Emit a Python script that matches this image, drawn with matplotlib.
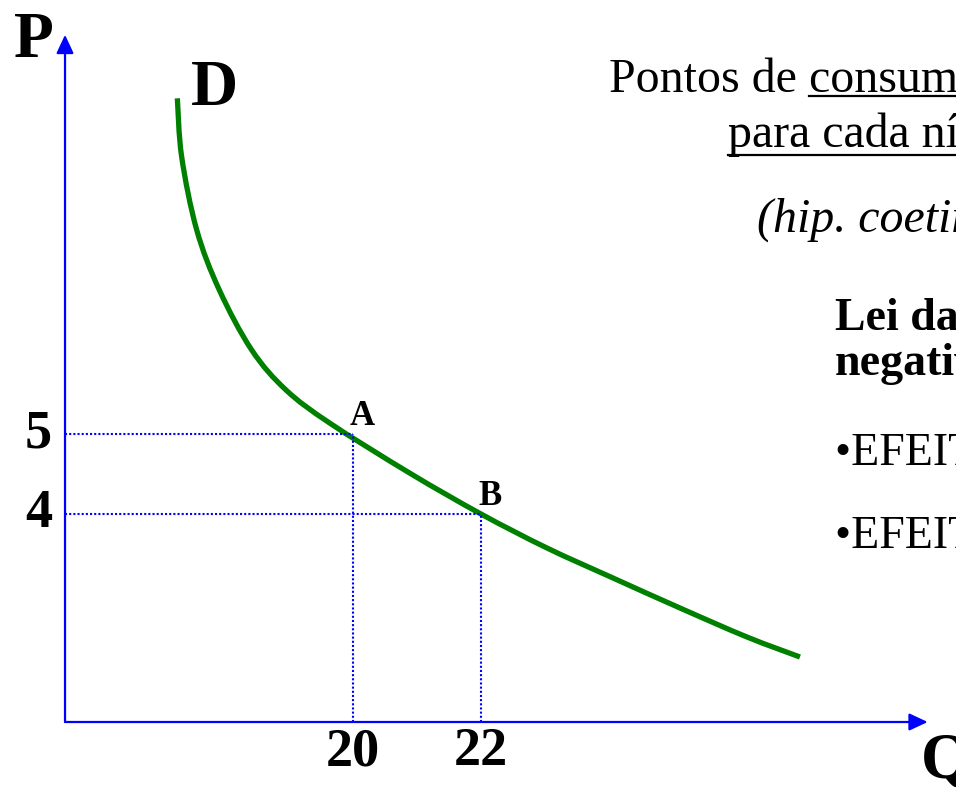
import matplotlib
matplotlib.use("Agg")
import matplotlib.pyplot as plt
from matplotlib.lines import Line2D
from matplotlib.path import Path
from matplotlib.patches import PathPatch
import numpy as np

# ---- data ----
curve_q = [17.255, 17.323, 17.558, 17.911, 18.417, 18.953, 19.641,
           20.891, 22.0, 23.031, 24.0625, 25.109, 26.156, 26.984]
curve_p = [9.196, 8.463, 7.55, 6.80, 6.05, 5.55, 5.134,
           4.509, 4.0, 3.575, 3.20, 2.825, 2.4625, 2.2125]
point_names = ["A", "B"]
point_q = [20, 22]
point_p = [5, 4]
q_ticks = ["20", "22"]
p_ticks = ["5", "4"]
origin_q, origin_p = 15.5, 1.4
tip_q, tip_p = 28.98, 9.99

W, H = 956, 787
fig = plt.figure(figsize=(W / 100, H / 100), dpi=100)
ax = fig.add_axes([0, 0, 1, 1])
ax.set_xlim(14.484, 29.422)
ax.set_ylim(0.5875, 10.425)
ax.axis("off")

SERIF = ["Liberation Serif", "DejaVu Serif"]
BLUE = "#0000ff"
GREEN = "#008000"

def fx(px):
    return px / W

def fy(py):
    return 1 - py / H

# axes with arrows
arrow_style = "-|>,head_length=0.75,head_width=0.35"
ax.annotate("", xy=(tip_q, origin_p), xytext=(origin_q, origin_p),
            arrowprops=dict(arrowstyle=arrow_style, color=BLUE, lw=1.6,
                            mutation_scale=15, shrinkA=0, shrinkB=0))
ax.annotate("", xy=(origin_q, tip_p), xytext=(origin_q, origin_p),
            arrowprops=dict(arrowstyle=arrow_style, color=BLUE, lw=1.6,
                            mutation_scale=15, shrinkA=0, shrinkB=0))

# dotted guide lines
for q, p in zip(point_q, point_p):
    ax.plot([origin_q, q], [p, p], color=BLUE, lw=1.5, ls=(0, (1, 1)))
    ax.plot([q, q], [origin_p, p], color=BLUE, lw=1.5, ls=(0, (1, 1)))

# demand curve: smooth path (Catmull-Rom -> cubic Bezier) through the read points
pts = np.column_stack([curve_q, curve_p])
verts = [tuple(pts[0])]
codes = [Path.MOVETO]
n = len(pts)
for i in range(n - 1):
    p0 = pts[max(i - 1, 0)]
    p1 = pts[i]
    p2 = pts[i + 1]
    p3 = pts[min(i + 2, n - 1)]
    c1 = p1 + (p2 - p0) / 6.0
    c2 = p2 - (p3 - p1) / 6.0
    verts += [tuple(c1), tuple(c2), tuple(p2)]
    codes += [Path.CURVE4] * 3
ax.add_patch(PathPatch(Path(verts, codes), fill=False, edgecolor=GREEN,
                       lw=3.8, capstyle="butt", joinstyle="round"))

# point labels
for name, q, p in zip(point_names, point_q, point_p):
    ax.annotate(name, xy=(q, p), xytext=(-3, 9), textcoords="offset pixels",
                ha="left", va="baseline", fontsize=25, fontweight="bold",
                family=SERIF)

# tick labels
for lab, q in zip(q_ticks, point_q):
    ax.annotate(lab, xy=(q, origin_p), xytext=(0, -43), textcoords="offset pixels",
                ha="center", va="baseline", fontsize=39, fontweight="bold",
                family=SERIF)
for lab, p in zip(p_ticks, point_p):
    ax.annotate(lab, xy=(origin_q, p), xytext=(-13, -13), textcoords="offset pixels",
                ha="right", va="baseline", fontsize=39, fontweight="bold",
                family=SERIF)

# axis titles
fig.text(fx(14), fy(57), "P", fontsize=47, fontweight="bold", family=SERIF,
         ha="left", va="baseline")
fig.text(fx(921), fy(778), "Q", fontsize=47, fontweight="bold", family=SERIF,
         ha="left", va="baseline")
fig.text(fx(191), fy(105), "D", fontsize=47, fontweight="bold", family=SERIF,
         ha="left", va="baseline")

# right-hand text block (cut off at the right edge as in the original)
fig.text(fx(609), fy(92), "Pontos de ", fontsize=34.5, family=SERIF,
         ha="left", va="baseline")
fig.text(fx(809), fy(92), "consumo óptimo", fontsize=34.5, family=SERIF,
         ha="left", va="baseline")
fig.add_artist(Line2D([fx(809), 1.0], [fy(96), fy(96)], color="black", lw=1.6))
fig.text(fx(728), fy(147), "para cada nível de preço", fontsize=34.5, family=SERIF,
         ha="left", va="baseline")
fig.add_artist(Line2D([fx(728), 1.0], [fy(155), fy(155)], color="black", lw=1.6))
fig.text(fx(757), fy(232), "(hip. coetiris paribus)", fontsize=34.5, family=SERIF,
         style="italic", ha="left", va="baseline")
fig.text(fx(835), fy(330), "Lei da procura: inclinação", fontsize=33,
         fontweight="bold", family=SERIF, ha="left", va="baseline")
fig.text(fx(835), fy(375), "negativa", fontsize=33,
         fontweight="bold", family=SERIF, ha="left", va="baseline")
fig.text(fx(835), fy(465), "•EFEITO SUBSTITUIÇÃO", fontsize=33,
         family=SERIF, ha="left", va="baseline")
fig.text(fx(835), fy(548), "•EFEITO RENDIMENTO", fontsize=33,
         family=SERIF, ha="left", va="baseline")

fig.savefig("out.png", dpi=100)
